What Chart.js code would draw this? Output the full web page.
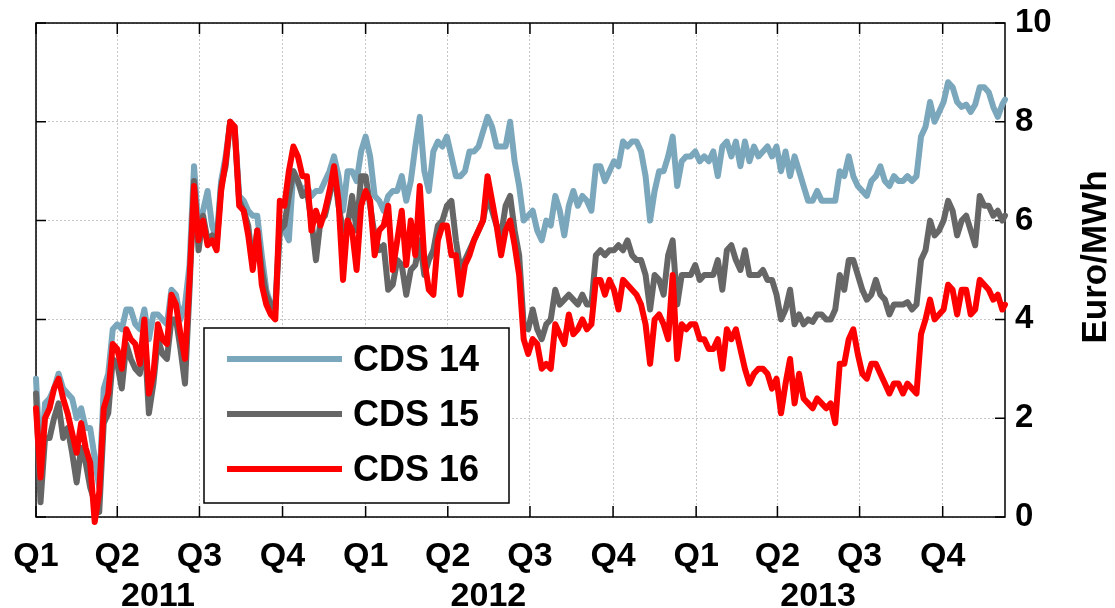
<!DOCTYPE html>
<html>
<head>
<meta charset="utf-8">
<title>CDS 14 / 15 / 16 - Euro/MWh</title>
<script src="https://cdn.jsdelivr.net/npm/chart.js@4.4.1/dist/chart.umd.min.js"></script>
<style>
    html, body { margin: 0; padding: 0; background: #fff; }
    #cdsChart { display: block; }
</style>
</head>
<body>
<canvas id="cdsChart" width="1115" height="608"></canvas>
<script>
// Day offsets from 1 Jan 2011 (one sample every 5 days)
const days = [
    0, 5, 10, 15, 20, 25, 30, 35, 40, 45, 50, 55, 60, 65, 70, 75, 80, 85, 90, 95,
    100, 105, 110, 115, 120, 125, 130, 135, 140, 145, 150, 155, 160, 165, 170, 175, 180, 185, 190, 195,
    200, 205, 210, 215, 220, 225, 230, 235, 240, 245, 250, 255, 260, 265, 270, 275, 280, 285, 290, 295,
    300, 305, 310, 315, 320, 325, 330, 335, 340, 345, 350, 355, 360, 365, 370, 375, 380, 385, 390, 395,
    400, 405, 410, 415, 420, 425, 430, 435, 440, 445, 450, 455, 460, 465, 470, 475, 480, 485, 490, 495,
    500, 505, 510, 515, 520, 525, 530, 535, 540, 545, 550, 555, 560, 565, 570, 575, 580, 585, 590, 595,
    600, 605, 610, 615, 620, 625, 630, 635, 640, 645, 650, 655, 660, 665, 670, 675, 680, 685, 690, 695,
    700, 705, 710, 715, 720, 725, 730, 735, 740, 745, 750, 755, 760, 765, 770, 775, 780, 785, 790, 795,
    800, 805, 810, 815, 820, 825, 830, 835, 840, 845, 850, 855, 860, 865, 870, 875, 880, 885, 890, 895,
    900, 905, 910, 915, 920, 925, 930, 935, 940, 945, 950, 955, 960, 965, 970, 975, 980, 985, 990, 995,
    1000, 1005, 1010, 1015, 1020, 1025, 1030, 1035, 1040, 1045, 1050, 1055, 1060, 1065, 1070, 1073
];

const cds14 = [
    2.8, 1.0, 2.3, 2.4, 2.6, 2.9, 2.6, 2.5, 2.4, 2.0,
    2.2, 1.8, 1.8, 1.2, 0.6, 2.6, 2.9, 3.8, 3.9, 3.8,
    4.2, 4.2, 3.9, 3.8, 4.2, 3.6, 4.1, 4.1, 4.0, 3.9,
    4.6, 4.5, 4.0, 4.3, 5.1, 7.1, 5.8, 6.2, 6.6, 5.9,
    5.6, 6.8, 7.3, 8.0, 7.9, 6.5, 6.4, 6.2, 6.1, 6.1,
    5.3, 4.6, 4.3, 4.3, 6.0, 5.8, 5.6, 7.0, 6.8, 6.6,
    6.7, 6.5, 6.6, 6.6, 6.8, 7.0, 7.3, 6.9, 6.2, 7.0,
    7.0, 6.8, 7.4, 7.7, 7.3, 6.5, 6.4, 6.2, 6.5, 6.6,
    6.6, 6.9, 6.4, 6.8, 7.5, 8.1, 7.0, 6.6, 7.4, 7.6,
    7.5, 7.7, 7.3, 6.9, 6.9, 7.0, 7.4, 7.4, 7.5, 7.8,
    8.1, 7.9, 7.5, 7.5, 7.5, 8.0, 7.2, 6.7, 6.0, 6.1,
    6.2, 5.8, 5.6, 6.0, 5.9, 6.5, 6.2, 5.7, 6.3, 6.6,
    6.3, 6.5, 6.4, 6.2, 7.1, 7.1, 6.8, 7.0, 7.2, 7.1,
    7.6, 7.5, 7.6, 7.6, 7.4, 6.9, 6.0, 6.6, 7.0, 7.0,
    7.3, 7.7, 6.7, 7.2, 7.3, 7.3, 7.4, 7.2, 7.3, 7.2,
    7.4, 6.9, 7.5, 7.6, 7.3, 7.6, 7.1, 7.6, 7.2, 7.5,
    7.3, 7.4, 7.5, 7.3, 7.5, 7.0, 7.4, 6.9, 7.3, 7.0,
    6.7, 6.4, 6.4, 6.6, 6.4, 6.4, 6.4, 6.4, 7.0, 6.9,
    7.3, 6.9, 6.7, 6.6, 6.5, 6.8, 6.9, 7.1, 6.8, 6.7,
    6.9, 6.8, 6.8, 6.9, 6.8, 6.9, 7.7, 7.9, 8.4, 8.0,
    8.2, 8.4, 8.8, 8.7, 8.4, 8.3, 8.35, 8.2, 8.35, 8.7,
    8.7, 8.6, 8.3, 8.1, 8.35, 8.45
];

const cds15 = [
    2.5, 0.3, 1.6, 1.6, 2.0, 2.3, 1.6, 1.8, 1.3, 0.7,
    1.4, 1.1, 0.6, 0.3, 0.1, 1.9, 2.1, 3.2, 3.1, 2.6,
    3.5, 3.2, 3.0, 2.9, 3.7, 2.1, 2.7, 3.6, 3.3, 3.2,
    4.0, 4.0, 3.4, 2.7, 4.6, 6.8, 5.4, 6.1, 5.6, 5.7,
    5.5, 6.7, 7.1, 8.0, 7.8, 6.4, 6.2, 5.9, 5.1, 5.8,
    5.0, 4.5, 4.3, 4.2, 5.8, 5.9, 6.5, 7.0, 6.8, 6.5,
    6.6, 6.0, 5.2, 6.0, 6.1, 6.5, 7.0, 6.3, 5.8, 5.9,
    6.5, 5.8, 6.9, 6.9, 6.3, 5.7, 5.4, 5.5, 4.6, 4.7,
    5.2, 5.1, 4.5, 5.0, 5.1, 5.6, 4.9, 5.2, 5.4, 5.9,
    6.0, 6.3, 6.4, 5.6, 5.0, 5.2, 5.4, 5.6, 5.8, 6.0,
    6.5, 6.2, 5.9, 5.7, 6.3, 6.5, 5.8, 5.3, 3.9, 3.8,
    4.2, 3.8, 3.6, 3.9, 4.0, 4.6, 4.3, 4.4, 4.5, 4.4,
    4.3, 4.5, 4.3, 4.3, 5.3, 5.4, 5.3, 5.4, 5.4, 5.5,
    5.4, 5.6, 5.3, 5.2, 5.2, 4.9, 4.2, 4.9, 4.8, 4.5,
    5.3, 5.6, 4.3, 4.9, 4.9, 4.9, 5.1, 4.8, 4.9, 4.9,
    4.9, 5.2, 4.6, 5.4, 5.5, 5.2, 5.0, 5.4, 4.9, 4.9,
    4.9, 5.0, 4.8, 4.8, 4.5, 4.0, 4.2, 4.6, 3.9, 4.1,
    3.9, 4.0, 3.95, 4.1, 4.1, 4.0, 4.0, 4.2, 4.9, 4.6,
    5.2, 5.2, 4.9, 4.6, 4.4, 4.5, 4.8, 4.5, 4.4, 4.1,
    4.3, 4.3, 4.3, 4.35, 4.2, 4.3, 5.2, 5.4, 6.0, 5.7,
    5.8, 6.0, 6.4, 6.2, 5.7, 6.0, 6.1, 5.8, 5.5, 6.5,
    6.3, 6.3, 6.1, 6.2, 6.0, 6.1
];

const cds16 = [
    2.2, 0.8, 2.0, 2.2, 2.6, 2.8, 2.4, 2.1, 1.7, 1.3,
    1.9, 1.4, 1.1, -0.1, 0.5, 2.2, 2.5, 3.5, 3.4, 3.0,
    3.8, 3.6, 3.5, 3.1, 4.0, 2.5, 2.9, 3.9, 3.6, 3.5,
    4.5, 4.3, 3.7, 3.2, 4.8, 6.7, 5.6, 6.0, 5.5, 5.6,
    5.4, 6.6, 7.2, 8.0, 7.9, 6.3, 6.2, 5.7, 5.0, 5.8,
    4.7, 4.3, 4.1, 4.0, 6.4, 6.3, 7.0, 7.5, 7.3, 6.9,
    6.9, 5.8, 6.2, 5.9, 6.2, 6.6, 7.1, 6.4, 4.8, 6.0,
    5.8, 5.0, 6.3, 6.6, 6.4, 5.3, 5.8, 5.9, 6.3, 5.0,
    5.6, 6.2, 5.1, 6.0, 5.3, 6.7, 5.2, 4.6, 4.5, 5.6,
    5.9, 5.9, 5.3, 5.3, 4.5, 5.1, 5.3, 5.6, 5.8, 6.0,
    6.9, 6.4, 5.9, 5.3, 5.8, 6.0, 5.5, 4.9, 3.6, 3.3,
    3.6, 3.5, 3.0, 3.1, 3.0, 3.9, 3.7, 3.5, 4.1, 3.7,
    3.8, 4.0, 3.8, 3.9, 4.8, 4.8, 4.5, 4.8, 4.6, 4.2,
    4.8, 4.7, 4.6, 4.5, 4.3, 3.9, 3.1, 4.0, 4.1, 3.9,
    3.6, 4.9, 3.2, 3.9, 3.8, 3.9, 3.9, 3.6, 3.6, 3.4,
    3.4, 3.6, 3.0, 3.8, 3.6, 3.8, 3.4, 3.0, 2.7, 2.9,
    3.0, 3.0, 2.9, 2.6, 2.8, 2.1, 2.7, 3.2, 2.3, 2.9,
    2.4, 2.3, 2.2, 2.4, 2.3, 2.2, 2.3, 1.9, 3.1, 3.1,
    3.6, 3.8, 3.3, 2.9, 2.8, 3.1, 3.1, 2.9, 2.7, 2.5,
    2.7, 2.7, 2.5, 2.7, 2.6, 2.5, 3.7, 4.0, 4.4, 4.0,
    4.1, 4.2, 4.7, 4.6, 4.1, 4.6, 4.6, 4.1, 4.2, 4.8,
    4.7, 4.6, 4.4, 4.5, 4.2, 4.3
];

// Axis ticks: quarter starts (days) and year centres
const quarterDays = [0, 90, 181, 273, 365, 456, 547, 639, 731, 821, 912, 1004];
const quarterLabels = ['Q1', 'Q2', 'Q3', 'Q4', 'Q1', 'Q2', 'Q3', 'Q4', 'Q1', 'Q2', 'Q3', 'Q4'];
const yearDays = [135, 501, 866];
const yearLabels = ['2011', '2012', '2013'];
const yTicks = [0, 2, 4, 6, 8, 10];

const seriesNames = ['CDS 14', 'CDS 15', 'CDS 16'];
const seriesColors = ['#7ba7bc', '#666666', '#ff0000'];

(function () {
    'use strict';

    const FONT = "'Liberation Sans', Arial, sans-serif";
    Chart.defaults.font.family = FONT;
    Chart.defaults.color = '#000';

    function toPoints(values) {
        return days.map((d, i) => ({ x: d, y: values[i] }));
    }

    // fixed axis box sizes, no extra room for label overflow
    function fixSize(prop, size) {
        return s => {
            s[prop] = size;
            s.paddingLeft = s.paddingRight = s.paddingTop = s.paddingBottom = 0;
        };
    }

    // Box frame, inward ticks, legend and right-hand axis title
    const framePlugin = {
        id: 'frame',
        beforeDatasetsDraw(chart) {
            const { ctx, chartArea: a, scales } = chart;
            ctx.save();
            ctx.strokeStyle = '#000';
            ctx.lineWidth = 1.5;
            ctx.strokeRect(a.left, a.top, a.right - a.left, a.bottom - a.top);
            ctx.beginPath();
            quarterDays.forEach(d => {
                const px = scales.x.getPixelForValue(d);
                ctx.moveTo(px, a.bottom); ctx.lineTo(px, a.bottom - 11);
                ctx.moveTo(px, a.top); ctx.lineTo(px, a.top + 11);
            });
            yTicks.forEach(v => {
                const py = scales.y.getPixelForValue(v);
                ctx.moveTo(a.left, py); ctx.lineTo(a.left + 10, py);
                ctx.moveTo(a.right, py); ctx.lineTo(a.right - 10, py);
            });
            ctx.stroke();
            ctx.restore();
        },
        afterDatasetsDraw(chart) {
            const { ctx } = chart;
            const box = { left: 204, top: 328, width: 305, height: 175 };
            const rows = [359, 414, 469];
            ctx.save();
            ctx.fillStyle = '#fff';
            ctx.fillRect(box.left, box.top, box.width, box.height);
            ctx.strokeStyle = '#000';
            ctx.lineWidth = 1.5;
            ctx.strokeRect(box.left, box.top, box.width, box.height);
            ctx.font = 'bold 36px ' + FONT;
            ctx.textAlign = 'left';
            ctx.textBaseline = 'middle';
            chart.data.datasets.forEach((ds, i) => {
                ctx.strokeStyle = ds.borderColor;
                ctx.lineWidth = 6;
                ctx.beginPath();
                ctx.moveTo(227, rows[i]);
                ctx.lineTo(342, rows[i]);
                ctx.stroke();
                ctx.fillStyle = '#000';
                ctx.fillText(ds.label, 353, rows[i] + 2);
            });
            ctx.restore();
        },
        afterDraw(chart) {
            const { ctx } = chart;
            ctx.save();
            ctx.translate(1096, 257);
            ctx.rotate(-Math.PI / 2);
            ctx.font = 'bold 35px ' + FONT;
            ctx.fillStyle = '#000';
            ctx.textAlign = 'center';
            ctx.textBaseline = 'middle';
            ctx.fillText('Euro/MWh', 0, 0);
            ctx.restore();
        }
    };

    const gridStyle = { color: '#c6c6c6', lineWidth: 1, drawTicks: false };

    new Chart(document.getElementById('cdsChart'), {
        type: 'line',
        data: {
            datasets: [cds14, cds15, cds16].map((values, i) => ({
                label: seriesNames[i],
                data: toPoints(values),
                borderColor: seriesColors[i],
                backgroundColor: seriesColors[i],
                borderWidth: 6,
                borderJoinStyle: 'round',
                borderCapStyle: 'round',
                pointRadius: 0,
                tension: 0,
                clip: 10,
                order: 2 - i
            }))
        },
        options: {
            responsive: false,
            animation: false,
            devicePixelRatio: 1,
            layout: { padding: { left: 36, top: 23, right: 0, bottom: 0 } },
            plugins: { legend: { display: false }, tooltip: { enabled: false } },
            scales: {
                x: {
                    type: 'linear',
                    position: 'bottom',
                    min: 0,
                    max: 1073,
                    weight: 0,
                    afterBuildTicks: s => { s.ticks = quarterDays.map(v => ({ value: v })); },
                    afterFit: fixSize('height', 58),
                    grid: gridStyle,
                    border: { display: false, dash: [2, 2] },
                    ticks: {
                        autoSkip: false,
                        maxRotation: 0,
                        padding: 19,
                        font: { size: 34, weight: 'bold' },
                        callback: (v, i) => quarterLabels[i]
                    }
                },
                years: {
                    type: 'linear',
                    position: 'bottom',
                    min: 0,
                    max: 1073,
                    weight: 1,
                    afterBuildTicks: s => { s.ticks = yearDays.map(v => ({ value: v })); },
                    afterFit: fixSize('height', 33),
                    grid: { display: false, drawTicks: false },
                    border: { display: false },
                    ticks: {
                        autoSkip: false,
                        maxRotation: 0,
                        padding: 1,
                        font: { size: 34, weight: 'bold' },
                        callback: (v, i) => yearLabels[i]
                    }
                },
                y: {
                    position: 'right',
                    min: 0,
                    max: 10,
                    afterBuildTicks: s => { s.ticks = yTicks.map(v => ({ value: v })); },
                    afterFit: fixSize('width', 110),
                    grid: gridStyle,
                    border: { display: false, dash: [2, 2] },
                    ticks: {
                        padding: 10,
                        font: { size: 33, weight: 'bold' }
                    }
                }
            }
        },
        plugins: [framePlugin]
    });
})();
</script>
</body>
</html>
